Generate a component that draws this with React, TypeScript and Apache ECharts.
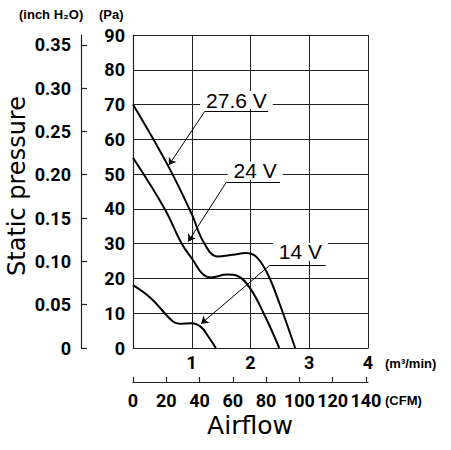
import React, { useEffect, useRef } from "react";
import * as echarts from "echarts";

// Fan P-Q curves: airflow (m³/min) vs static pressure (Pa)
const flow276 = [0, 0.6, 1.0, 1.2, 1.44, 1.7, 1.92, 2.1, 2.3, 2.5, 2.76];
const pres276 = [70, 52.3, 38.5, 30.5, 26.3, 26.8, 27.3, 26.2, 21, 12.5, 0];

const flow24 = [0, 0.54, 0.83, 1.02, 1.19, 1.33, 1.6, 1.78, 2.0, 2.24, 2.49];
const pres24 = [54.7, 40, 30, 25.3, 21.2, 20.3, 21.1, 20.7, 17, 9.4, 0];

const flow14 = [0, 0.3, 0.68, 0.8, 1.0, 1.16, 1.27, 1.41];
const pres14 = [18.1, 14.4, 7.6, 7.0, 7.1, 6.0, 3.6, 0];

const voltageNames = ["27.6 V", "24 V", "14 V"];

// Axis ticks
const paTicksMax = 90;
const m3Labels = [1, 2, 3, 4];
const cfmTicks = [0, 20, 40, 60, 80, 100, 120, 140];
const inchTicks = [0, 0.05, 0.1, 0.15, 0.2, 0.25, 0.3, 0.35];

const PA_PER_INCH = 249.089;
const CFM_PER_M3MIN = 35.3147;

// Callout placement for each voltage label (data coordinates)
const calloutText = [
  [1.76, 71.3],
  [2.08, 51.0],
  [2.85, 27.7],
];
const calloutUnderline = [
  [1.22, 2.3, 68.0],
  [1.59, 2.5, 47.7],
  [2.33, 3.28, 23.8],
];
const calloutTip = [
  [0.61, 52.6],
  [0.94, 30.6],
  [1.16, 7.0],
];

const tickFont = "Roboto, 'Liberation Sans', sans-serif";
const plainFont = "'Liberation Sans', Arial, sans-serif";
const bigFont = "'DejaVu Sans', sans-serif";

function zip(xs: number[], ys: number[]) {
  return xs.map((x, i) => [x, ys[i]]);
}

function curveSeries(idx: number, xs: number[], ys: number[]) {
  const [tx, ty] = calloutText[idx];
  const [ux0, ux1, uy] = calloutUnderline[idx];
  const [px, py] = calloutTip[idx];
  return {
    type: "line",
    name: voltageNames[idx],
    xAxisIndex: 0,
    yAxisIndex: 0,
    data: zip(xs, ys),
    smooth: 0.4,
    showSymbol: false,
    symbol: "none",
    silent: true,
    lineStyle: { color: "#000", width: 2 },
    markLine: {
      silent: true,
      animation: false,
      label: { show: false },
      lineStyle: { color: "#000", width: 1, type: "solid" },
      emphasis: { disabled: true },
      data: [
        [
          { coord: [ux1, uy], symbol: "none" },
          { coord: [ux0, uy], symbol: "none" },
        ],
        [
          { coord: [ux0, uy], symbol: "none" },
          { coord: [px, py], symbol: "arrow", symbolSize: 7 },
        ],
      ],
    },
    markPoint: {
      silent: true,
      animation: false,
      symbol: "rect",
      symbolSize: 1,
      itemStyle: { color: "rgba(0,0,0,0)" },
      label: {
        show: true,
        position: "inside",
        formatter: voltageNames[idx],
        color: "#000",
        fontFamily: plainFont,
        fontSize: 21,
        lineHeight: 18,
        backgroundColor: "#fff",
        padding: [0, 6],
      },
      data: [{ coord: [tx, ty], name: voltageNames[idx] }],
    },
  };
}

export default function App() {
  const ref = useRef<HTMLDivElement>(null);

  useEffect(() => {
    if (!ref.current) return;
    const chart = echarts.init(ref.current, null, { renderer: "svg" });
    const gridColor = "#222";
    const tickLabel = {
      color: "#000",
      fontFamily: tickFont,
      fontWeight: "bold" as const,
      fontSize: 18,
    };

    chart.setOption({
      animation: false,
      backgroundColor: "#fff",
      grid: { left: 133, top: 35, width: 235, height: 313, containLabel: false },
      xAxis: [
        {
          type: "value",
          min: 0,
          max: 4,
          interval: 1,
          position: "bottom",
          axisLine: { show: true, lineStyle: { color: gridColor, width: 1.2 } },
          axisTick: { show: false },
          splitLine: { show: true, lineStyle: { color: gridColor, width: 1 } },
          axisLabel: {
            ...tickLabel,
            margin: 5,
            customValues: m3Labels,
            formatter: (v: number) => String(v),
          },
        },
        {
          type: "value",
          min: 0,
          max: 4 * CFM_PER_M3MIN,
          position: "bottom",
          offset: 34,
          axisLine: { show: true, onZero: false, lineStyle: { color: gridColor, width: 1.2 } },
          axisTick: {
            show: true,
            inside: true,
            length: 5,
            customValues: cfmTicks,
            lineStyle: { color: gridColor, width: 1.2 },
          },
          splitLine: { show: false },
          axisLabel: {
            ...tickLabel,
            margin: 9,
            hideOverlap: false,
            customValues: cfmTicks,
            formatter: (v: number) => String(v),
          },
        },
      ],
      yAxis: [
        {
          type: "value",
          min: 0,
          max: paTicksMax,
          interval: 10,
          position: "left",
          axisLine: { show: true, lineStyle: { color: gridColor, width: 1.2 } },
          axisTick: { show: false },
          splitLine: { show: true, lineStyle: { color: gridColor, width: 1 } },
          axisLabel: { ...tickLabel, margin: 8 },
        },
        {
          type: "value",
          min: 0,
          max: paTicksMax / PA_PER_INCH,
          position: "left",
          offset: 52,
          axisLine: { show: true, onZero: false, lineStyle: { color: gridColor, width: 1.2 } },
          axisTick: {
            show: true,
            inside: true,
            length: 6,
            customValues: inchTicks,
            lineStyle: { color: gridColor, width: 1.2 },
          },
          splitLine: { show: false },
          axisLabel: {
            ...tickLabel,
            margin: 10,
            customValues: inchTicks,
            formatter: (v: number) => (v === 0 ? "0" : v.toFixed(2)),
          },
        },
      ],
      series: [
        curveSeries(0, flow276, pres276),
        curveSeries(1, flow24, pres24),
        curveSeries(2, flow14, pres14),
      ],
      graphic: [
        {
          type: "text",
          left: 19,
          top: 8,
          style: {
            text: "(inch H₂O)",
            fontFamily: plainFont,
            fontWeight: "bold",
            fontSize: 13,
            fill: "#000",
          },
        },
        {
          type: "text",
          left: 99,
          top: 8,
          style: {
            text: "(Pa)",
            fontFamily: plainFont,
            fontWeight: "bold",
            fontSize: 13,
            fill: "#000",
          },
        },
        {
          type: "text",
          left: 385,
          top: 357,
          style: {
            text: "(m³/min)",
            fontFamily: plainFont,
            fontWeight: "bold",
            fontSize: 13,
            fill: "#000",
          },
        },
        {
          type: "text",
          left: 385,
          top: 394,
          style: {
            text: "(CFM)",
            fontFamily: plainFont,
            fontWeight: "bold",
            fontSize: 13,
            fill: "#000",
          },
        },
        {
          type: "text",
          x: 250,
          y: 425,
          style: {
            text: "Airflow",
            fontFamily: bigFont,
            fontSize: 25,
            fill: "#000",
            align: "center",
            verticalAlign: "middle",
          },
        },
        {
          type: "text",
          x: 17,
          y: 186,
          rotation: Math.PI / 2,
          style: {
            text: "Static pressure",
            fontFamily: bigFont,
            fontSize: 24,
            fill: "#000",
            align: "center",
            verticalAlign: "middle",
          },
        },
      ],
    });

    return () => chart.dispose();
  }, []);

  return (
    <div
      ref={ref}
      style={{ position: "fixed", left: 0, top: 0, width: 451, height: 450, background: "#fff" }}
    />
  );
}
